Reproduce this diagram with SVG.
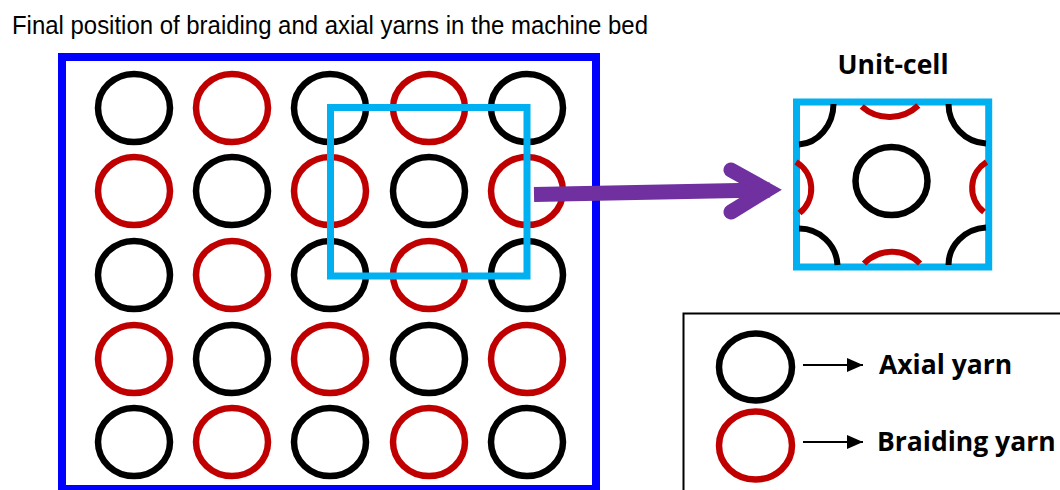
<svg xmlns="http://www.w3.org/2000/svg" width="1060" height="490" viewBox="0 0 1060 490">
  <style>
    .ax { fill: none; stroke: #000000; stroke-width: 6.5; }
    .br { fill: none; stroke: #C00000; stroke-width: 6.5; }
    .arcB { fill: none; stroke: #000000; stroke-width: 6; }
    .arcR { fill: none; stroke: #C00000; stroke-width: 6; }
    .cell { fill: none; stroke: #00B0F0; stroke-width: 7; }
    .lbl { font-family: "Open Sans", "Noto Sans", sans-serif; font-weight: bold; font-size: 26.5px; fill: #000; }
  </style>
  <defs>
    <marker id="legArrow" markerWidth="16" markerHeight="14" refX="16" refY="7" orient="auto" markerUnits="userSpaceOnUse">
      <path d="M0,0 L16,7 L0,14 Z" fill="#000"/>
    </marker>
  </defs>
  <rect width="1060" height="490" fill="#ffffff"/>

  <text id="title" x="12" y="34" font-family="Liberation Sans, Arial, sans-serif" font-size="26" textLength="636" lengthAdjust="spacingAndGlyphs" fill="#000">Final position of braiding and axial yarns in the machine bed</text>

  <g id="machine-bed">
    <rect x="62" y="57" width="534" height="432" fill="none" stroke="#0000FF" stroke-width="8"/>
    <g id="bed-yarns">
      <ellipse class="ax" cx="134" cy="108" rx="36" ry="34"/>
      <ellipse class="br" cx="232" cy="108" rx="36" ry="34"/>
      <ellipse class="ax" cx="330" cy="108" rx="36" ry="34"/>
      <ellipse class="br" cx="429" cy="108" rx="36" ry="34"/>
      <ellipse class="ax" cx="527" cy="108" rx="36" ry="34"/>

      <ellipse class="br" cx="134" cy="191" rx="36" ry="34"/>
      <ellipse class="ax" cx="232" cy="191" rx="36" ry="34"/>
      <ellipse class="br" cx="330" cy="191" rx="36" ry="34"/>
      <ellipse class="ax" cx="429" cy="191" rx="36" ry="34"/>
      <ellipse class="br" cx="527" cy="191" rx="36" ry="34"/>

      <ellipse class="ax" cx="134" cy="275" rx="36" ry="34"/>
      <ellipse class="br" cx="232" cy="275" rx="36" ry="34"/>
      <ellipse class="ax" cx="330" cy="275" rx="36" ry="34"/>
      <ellipse class="br" cx="429" cy="275" rx="36" ry="34"/>
      <ellipse class="ax" cx="527" cy="275" rx="36" ry="34"/>

      <ellipse class="br" cx="134" cy="359" rx="36" ry="34"/>
      <ellipse class="ax" cx="232" cy="359" rx="36" ry="34"/>
      <ellipse class="br" cx="330" cy="359" rx="36" ry="34"/>
      <ellipse class="ax" cx="429" cy="359" rx="36" ry="34"/>
      <ellipse class="br" cx="527" cy="359" rx="36" ry="34"/>

      <ellipse class="ax" cx="134" cy="442" rx="36" ry="34"/>
      <ellipse class="br" cx="232" cy="442" rx="36" ry="34"/>
      <ellipse class="ax" cx="330" cy="442" rx="36" ry="34"/>
      <ellipse class="br" cx="429" cy="442" rx="36" ry="34"/>
      <ellipse class="ax" cx="527" cy="442" rx="36" ry="34"/>
    </g>
    <rect id="selection" class="cell" x="330.5" y="107.5" width="196.5" height="168.5"/>
  </g>

  <g id="unit-cell">
    <text class="lbl" x="893" y="74" text-anchor="middle">Unit-cell</text>
    <rect class="cell" x="796.5" y="102" width="192.2" height="165"/>
    <ellipse class="ax" cx="891.5" cy="181" rx="36" ry="34"/>
    <path class="arcB" d="M 833.5 104 A 37 41 0 0 1 799 144.5"/>
    <path class="arcB" d="M 948.5 104 A 40 39.5 0 0 0 986 143.5"/>
    <path class="arcB" d="M 799 228.5 A 38.5 38.5 0 0 1 837.5 265"/>
    <path class="arcB" d="M 948.5 265 A 40 37.5 0 0 1 986 227.5"/>
    <path class="arcR" d="M 861.7 106.5 A 42 42 0 0 0 918.3 105.5"/>
    <path class="arcR" d="M 864 263.5 A 39 39 0 0 1 920 263.5"/>
    <path class="arcR" d="M 796 162 A 31 31 0 0 1 799.5 213"/>
    <path class="arcR" d="M 986.5 162 A 30.5 30.5 0 0 0 984 212"/>
  </g>

  <g id="connectors">
    <g id="zoom-arrow" stroke="#7030A0" stroke-width="15" fill="none">
      <line x1="534" y1="194.5" x2="770" y2="190"/>
      <polyline points="731,170 767,190 731,212" stroke-linecap="round" stroke-linejoin="miter"/>
    </g>
    <line id="leg-arrow-axial" x1="803" y1="365" x2="863" y2="365" stroke="#000" stroke-width="2" marker-end="url(#legArrow)"/>
    <line id="leg-arrow-braid" x1="803" y1="442" x2="863" y2="442" stroke="#000" stroke-width="2" marker-end="url(#legArrow)"/>
  </g>

  <g id="legend">
    <rect x="683.5" y="313.5" width="400" height="200" fill="none" stroke="#000" stroke-width="2"/>
    <g id="legend-axial">
      <ellipse class="ax" cx="755.5" cy="367" rx="36.5" ry="33.5" stroke-width="6"/>
      <text class="lbl" x="879" y="374">Axial yarn</text>
    </g>
    <g id="legend-braiding">
      <ellipse class="br" cx="755.5" cy="445.5" rx="36.5" ry="34" stroke-width="6"/>
      <text class="lbl" x="877" y="451">Braiding yarn</text>
    </g>
  </g>
</svg>
